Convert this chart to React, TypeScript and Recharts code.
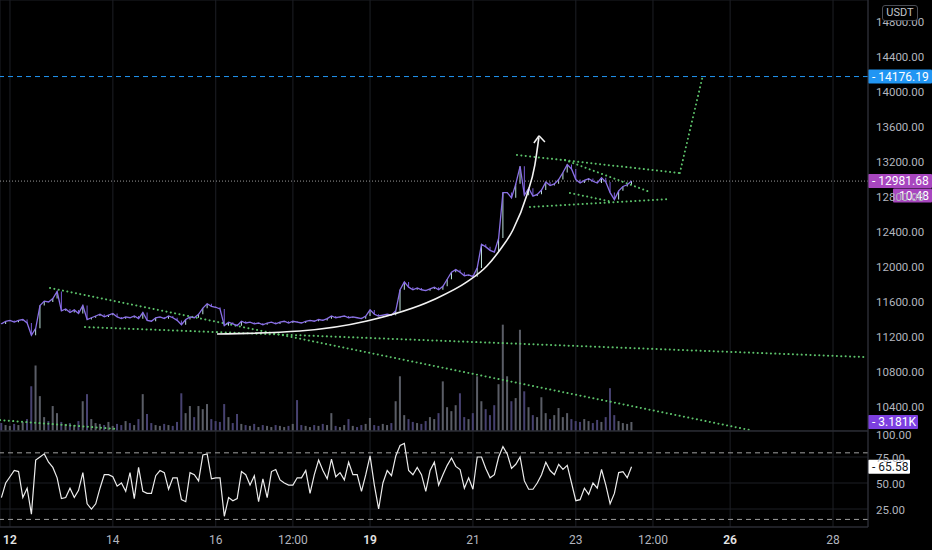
import React from "react";
import {
  ComposedChart,
  Bar,
  Line,
  XAxis,
  YAxis,
  CartesianGrid,
  ReferenceLine,
  Cell,
} from "recharts";

// 2h candles, first one on the 11th at 20:00
const START_DAY = 11 + 20 / 24;
const STEP = 2 / 24;
const FIRST_OPEN = 11360;

const closes = [
  11350, 11380, 11390, 11370, 11390, 11400, 11360, 11220, 11300, 11560,
  11610, 11600, 11640, 11720, 11500, 11520, 11480, 11510, 11470, 11560,
  11400, 11420, 11440, 11460, 11430, 11450, 11470, 11430, 11410, 11430,
  11420, 11440, 11410, 11480, 11390, 11380, 11420, 11430, 11410, 11440,
  11420, 11390, 11340, 11400, 11430, 11420, 11460, 11530, 11580, 11550,
  11540, 11520, 11330, 11370, 11350, 11330, 11380, 11360, 11370, 11350,
  11360, 11340, 11360, 11370, 11350, 11370, 11380, 11360, 11380, 11370,
  11360, 11380, 11390, 11380, 11400, 11390, 11410, 11440, 11420, 11430,
  11440, 11420, 11430, 11420, 11410, 11440, 11510, 11460, 11440, 11450,
  11460, 11450, 11500, 11740, 11830, 11770, 11740, 11760, 11740, 11730,
  11750, 11770, 11740, 11780, 11860, 11940, 11970, 11940, 11900, 11910,
  11890, 11990, 12260, 12230, 12190, 12170, 12330, 12850, 12850, 12790,
  12950, 13150, 12820, 12900, 12810, 12830, 12880, 12970, 12930, 12950,
  13000, 13080, 13170, 13120, 13000, 12960, 12990, 13010, 12980, 12960,
  13020, 12970, 12850, 12770, 12870, 12920, 12940, 12981.68,
];

const volumesK = [
  2.8, 2.1, 1.8, 2.5, 2.1, 3.2, 4.2, 15.8, 23.1, 12.3,
  4.9, 3.5, 8.8, 6.3, 3.2, 2.5, 2.8, 2.1, 3.5, 10.5,
  13.0, 4.2, 2.8, 2.5, 2.1, 3.2, 1.8, 2.5, 2.1, 3.5,
  2.8, 2.1, 4.2, 13.0, 6.0, 2.8, 2.1, 1.8, 2.5, 2.1,
  1.8, 3.2, 13.3, 6.3, 8.8, 4.9, 8.8, 7.7, 9.5, 4.2,
  3.5, 3.2, 9.5, 4.9, 2.8, 6.0, 2.5, 2.1, 1.8, 2.5,
  1.4, 2.1, 1.8, 1.4, 2.1, 1.8, 1.4, 1.8, 2.5, 10.9,
  2.1, 1.8, 1.4, 2.1, 1.8, 2.5, 2.1, 6.3, 1.8, 1.4,
  2.1, 4.2, 1.8, 1.4, 2.1, 2.5, 4.6, 2.1, 1.8, 2.5,
  2.1, 2.8, 10.5, 19.3, 5.6, 4.2, 3.2, 2.8, 2.5, 3.5,
  4.9, 4.2, 6.3, 17.5, 8.4, 7.0, 9.1, 13.3, 4.9, 4.2,
  6.3, 19.3, 10.5, 7.7, 5.6, 9.1, 16.5, 37.5, 19.3, 10.5,
  11.6, 35.7, 14.0, 8.4, 5.6, 4.9, 11.9, 6.3, 4.2, 5.6,
  8.1, 4.9, 6.3, 4.2, 3.5, 3.2, 4.2, 3.5, 2.8, 3.9,
  3.2, 4.9, 15.1, 5.6, 3.5, 2.8, 2.5, 3.181,
];

const rsiValues = [
  36, 50, 56, 62, 61, 36, 45, 20, 72, 75,
  78, 70, 65, 55, 35, 36, 45, 36, 43, 60,
  30, 25, 30, 45, 58, 58, 56, 47, 50, 42,
  60, 35, 65, 42, 40, 40, 57, 62, 60, 44,
  55, 55, 34, 32, 60, 58, 52, 77, 78, 54,
  55, 55, 18, 36, 33, 35, 61, 58, 48, 57,
  32, 54, 36, 61, 63, 53, 50, 48, 48, 55,
  55, 62, 40, 58, 72, 62, 54, 73, 56, 60,
  53, 70, 58, 58, 42, 58, 76, 48, 25, 50,
  62, 57, 76, 86, 88, 62, 58, 65, 58, 42,
  62, 70, 48, 58, 67, 74, 66, 63, 45, 55,
  44, 75, 75, 64, 55, 58, 75, 85, 78, 64,
  68, 75, 52, 44, 44, 50, 58, 70, 62, 58,
  68, 63, 67, 50, 33, 34, 45, 39, 50, 45,
  63, 48, 30, 40, 60, 61, 55, 65.58,
];

// hand-drawn parabola under the price, in [day, price]
const curvePoints = [
  [16.024, 11234], [17.637, 11269], [18.939, 11383], [20.222, 11623],
  [20.883, 11829], [21.271, 12011], [21.524, 12194], [21.777, 12423],
  [22.049, 12823], [22.204, 13166], [22.282, 13480],
];
const arrowTip = [22.285, 13500];
const arrowArms = [[22.185, 13417], [22.399, 13429]];

// dotted green drawings: [[day, price], [day, price]]
const trendLines = [
  [[12.778, 11760], [26.383, 10137]],
  [[13.458, 11314], [28.618, 10971]],
  [[11.806, 10251], [14.08, 10149]],
  [[21.855, 13280], [25.022, 13074]],
  [[25.022, 13074], [25.47, 14190]],
  [[22.788, 13223], [24.44, 12857]],
  [[22.107, 12686], [24.828, 12777]],
  [[22.885, 12846], [23.72, 12743]],
];

const targetPrice = 14176.19;
const lastPrice = 12981.68;
const lastVolume = 3.181;
const lastVolumeLabel = "3.181K";
const lastRsi = 65.58;
const countdown = "10:48";

const xTicks = [12, 14, 16, 17.5, 19, 21, 23, 24.5, 26, 28];
const xTickLabels = ["12", "14", "16", "12:00", "19", "21", "23", "12:00", "26", "28"];
const weekTicks = [12, 19, 26];
const priceTicks = [10400, 10800, 11200, 11600, 12000, 12400, 12800, 13200, 13600, 14000, 14400, 14800];
const rsiTicks = [25, 50, 75, 100];
const rsiBands = [79, 15];

const X_DOMAIN = [11.806, 28.68];
const PRICE_DOMAIN = [10126, 15051];
const VOL_DOMAIN = [0, 152];
const RSI_DOMAIN = [7.7, 100];

const BG = "#000000";
const GRID = "#1d1f25";
const AXIS = "#30333b";
const TEXT = "#b2b5be";
const GREEN = "#5cc16a";
const UP = "#c2e8e1";
const DOWN = "#7d5fe0";

function Tag({ viewBox, text, bg, color = "#fff", sub, w = 64 }: any) {
  const x = viewBox.x + viewBox.width;
  const y = viewBox.y;
  return (
    <g>
      <rect x={x} y={y - 7} width={w} height={14} fill={bg} rx={1} />
      <text x={x + 4} y={y + 4} fill={color} fontSize={12}>
        {"- " + text}
      </text>
      {sub && (
        <>
          <rect x={x + 25} y={y + 7.5} width={w - 25} height={14} fill={bg} rx={1} />
          <text x={x + 31} y={y + 18.5} fill={color} fontSize={12}>
            {sub}
          </text>
        </>
      )}
    </g>
  );
}

function TimeTick({ x, y, payload }: any) {
  const v = payload.value;
  const bold = weekTicks.includes(v);
  return (
    <text
      x={x}
      y={y}
      dy="0.71em"
      textAnchor="middle"
      fontSize={12}
      fill={bold ? "#e4e4e4" : TEXT}
      fontWeight={bold ? 600 : 400}
    >
      {xTickLabels[xTicks.indexOf(v)]}
    </text>
  );
}

function RsiTick({ x, y, payload }: any) {
  // the top label sits just under the pane border
  const shift = payload.value === 100 ? 4 : 1;
  return (
    <text x={x} y={y + shift} dy="0.355em" fontSize={11.5} fill={TEXT}>
      {payload.value.toFixed(2)}
    </text>
  );
}

export default function App() {
  const rows = closes.map((c, i) => {
    const o = i === 0 ? FIRST_OPEN : closes[i - 1];
    return {
      t: START_DAY + i * STEP,
      close: c,
      body: [Math.min(o, c), Math.max(o, c) + (o === c ? 4 : 0)],
      vol: volumesK[i],
      rsi: rsiValues[i],
      up: c >= o,
    };
  });
  const curve = curvePoints.map(([t, p]) => ({ t, p }));

  const priceTick = (v: number) => v.toFixed(2);
  const dots = {
    stroke: GREEN,
    strokeWidth: 2,
    strokeDasharray: "0.1 4.3",
    strokeLinecap: "round" as const,
  };

  return (
    <div
      style={{
        position: "fixed",
        left: 0,
        top: 0,
        width: 932,
        height: 550,
        background: BG,
        fontFamily: "Roboto, 'Noto Sans', sans-serif",
        overflow: "hidden",
      }}
    >
      {/* grid + volume */}
      <div style={{ position: "absolute", left: 0, top: 0 }}>
        <ComposedChart width={932} height={431} data={rows} margin={{ top: 0, right: 0, bottom: 0, left: 0 }}>
          <XAxis type="number" dataKey="t" domain={X_DOMAIN} ticks={xTicks} allowDataOverflow hide />
          <YAxis
            yAxisId="price"
            orientation="right"
            width={64}
            domain={PRICE_DOMAIN}
            ticks={priceTicks}
            allowDataOverflow
            tick={false}
            axisLine={false}
            tickLine={false}
          />
          <YAxis yAxisId="vol" hide domain={VOL_DOMAIN} allowDataOverflow />
          <CartesianGrid yAxisId="price" stroke={GRID} />
          <Bar yAxisId="vol" dataKey="vol" barSize={2} isAnimationActive={false}>
            {rows.map((r, i) => (
              <Cell key={i} fill={r.up ? "#5a5d66" : "#474270"} />
            ))}
          </Bar>
        </ComposedChart>
      </div>

      {/* price pane */}
      <div style={{ position: "absolute", left: 0, top: 0 }}>
        <ComposedChart width={932} height={431} data={rows} margin={{ top: 0, right: 0, bottom: 0, left: 0 }}>
          <XAxis type="number" dataKey="t" domain={X_DOMAIN} ticks={xTicks} allowDataOverflow hide />
          <YAxis
            yAxisId="price"
            orientation="right"
            width={64}
            domain={PRICE_DOMAIN}
            ticks={priceTicks}
            allowDataOverflow
            tickFormatter={priceTick}
            tick={{ fill: TEXT, fontSize: 11.5 }}
            axisLine={{ stroke: AXIS }}
            tickLine={false}
          />
          <YAxis yAxisId="vol" hide domain={VOL_DOMAIN} allowDataOverflow />
          <ReferenceLine
            yAxisId="price"
            y={lastPrice}
            stroke="#9a9a9a"
            strokeDasharray="1 2"
            label={<Tag text={lastPrice.toFixed(2)} bg="#a846bf" sub={countdown} />}
          />
          <ReferenceLine
            yAxisId="price"
            y={targetPrice}
            stroke="#2196f3"
            strokeDasharray="5 4"
            label={<Tag text={targetPrice.toFixed(2)} bg="#2196f3" />}
          />
          {trendLines.map(([a, b], i) => (
            <ReferenceLine
              key={i}
              yAxisId="price"
              ifOverflow="visible"
              segment={[{ x: a[0], y: a[1] }, { x: b[0], y: b[1] }]}
              {...dots}
            />
          ))}
          <Line
            yAxisId="price"
            dataKey="close"
            type="linear"
            stroke="#8a70e6"
            strokeWidth={1.3}
            dot={false}
            activeDot={false}
            isAnimationActive={false}
          />
          <Bar yAxisId="price" dataKey="body" barSize={4} isAnimationActive={false}>
            {rows.map((r, i) => (
              <Cell key={i} fill={r.up ? UP : DOWN} />
            ))}
          </Bar>
          <Line
            yAxisId="price"
            data={curve}
            dataKey="p"
            type="monotone"
            stroke="#f2f2f2"
            strokeWidth={1.6}
            dot={false}
            activeDot={false}
            isAnimationActive={false}
          />
          {arrowArms.map((a, i) => (
            <ReferenceLine
              key={"arm" + i}
              yAxisId="price"
              ifOverflow="visible"
              segment={[{ x: a[0], y: a[1] }, { x: arrowTip[0], y: arrowTip[1] }]}
              stroke="#f2f2f2"
              strokeWidth={1.5}
            />
          ))}
          <ReferenceLine
            yAxisId="vol"
            y={lastVolume}
            strokeOpacity={0}
            label={<Tag text={lastVolumeLabel} bg="#7c3fe0" w={50} />}
          />
        </ComposedChart>
      </div>

      {/* RSI pane */}
      <div style={{ position: "absolute", left: 0, top: 421 }}>
        <ComposedChart width={932} height={129} data={rows} margin={{ top: 10, right: 0, bottom: 0, left: 0 }}>
          <CartesianGrid stroke={GRID} />
          <XAxis
            type="number"
            dataKey="t"
            domain={X_DOMAIN}
            ticks={xTicks}
            allowDataOverflow
            height={23}
            tick={<TimeTick />}
            axisLine={{ stroke: AXIS }}
            tickLine={false}
          />
          <YAxis
            orientation="right"
            width={64}
            domain={RSI_DOMAIN}
            ticks={rsiTicks}
            allowDataOverflow
            tick={<RsiTick />}
            axisLine={{ stroke: AXIS }}
            tickLine={false}
          />
          <ReferenceLine y={100} stroke={AXIS} />
          {rsiBands.map((b) => (
            <ReferenceLine key={b} y={b} stroke="#a0a0a0" strokeDasharray="5 4" />
          ))}
          <Line
            dataKey="rsi"
            type="linear"
            stroke="#ececec"
            strokeWidth={1.2}
            dot={false}
            activeDot={false}
            isAnimationActive={false}
          />
          <ReferenceLine
            y={lastRsi}
            strokeOpacity={0}
            label={<Tag text={lastRsi.toFixed(2)} bg="#ffffff" color="#131722" w={42} />}
          />
        </ComposedChart>
      </div>

      <div
        style={{
          position: "absolute",
          left: 882,
          top: 5,
          width: 34,
          height: 14,
          border: "1px solid #4a4d55",
          borderRadius: 3,
          background: BG,
          color: "#c4c6cc",
          fontSize: 11,
          lineHeight: "14px",
          textAlign: "center",
        }}
      >
        USDT
      </div>
    </div>
  );
}
